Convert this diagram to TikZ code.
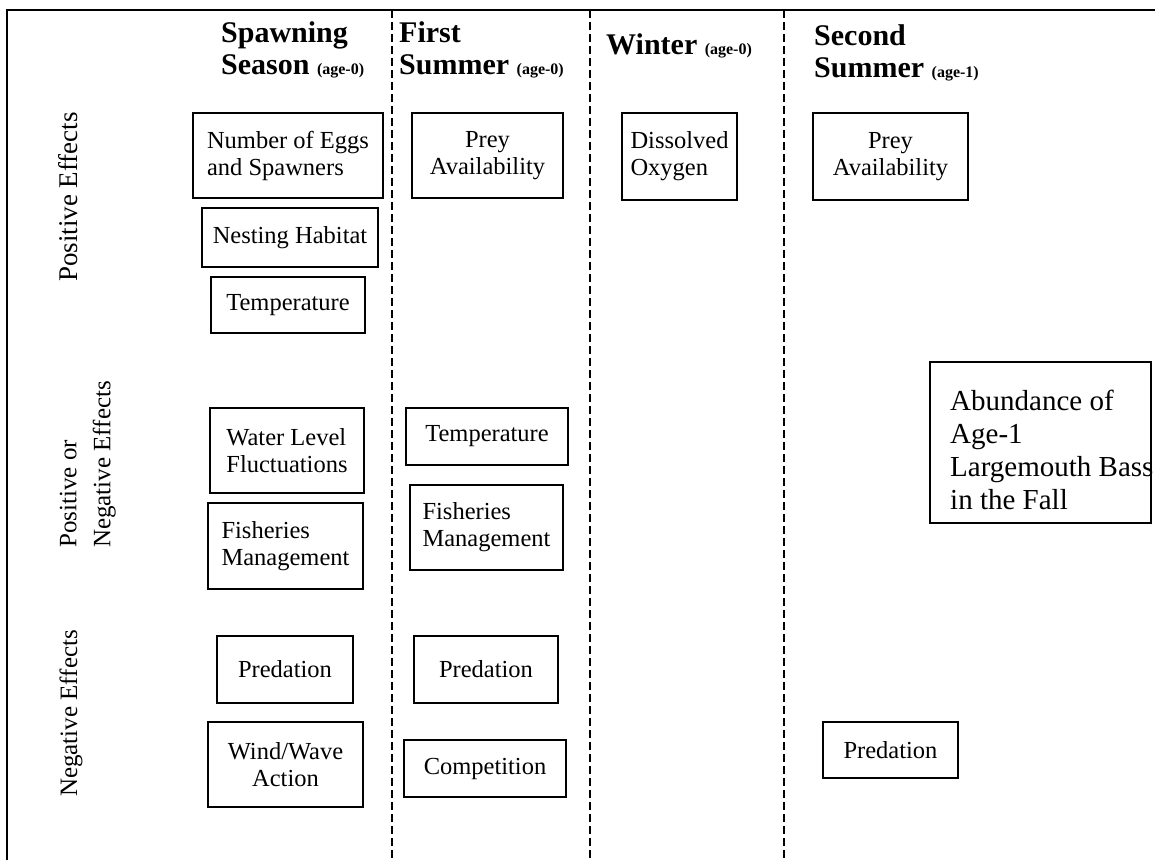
\documentclass[tikz,border=0pt]{standalone}
\usepackage{fontspec}
\setmainfont{Liberation Serif}

\newcommand{\agetag}[1]{{\fontsize{16}{16}\selectfont\bfseries (age-#1)}}

\tikzset{
  factor/.style={draw, line width=2pt, inner sep=0pt, align=center,
                 font=\fontsize{24.5}{27}\selectfont},
  season/.style={anchor=north west, inner sep=0pt, align=left,
                 font=\fontsize{30}{32}\selectfont\bfseries},
  effect/.style={rotate=90, inner sep=0pt, font=\fontsize{25}{34}\selectfont},
  divider/.style={line width=1.8pt, dash pattern=on 8pt off 4pt},
}

\begin{document}
\begin{tikzpicture}[x=1pt, y=-1pt]

\useasboundingbox (0,0) rectangle (1155,860);

% frame and season dividers
\draw[line width=2.6pt] (7,860) -- (7,10) -- (1155,10);
\foreach \x in {392,590,784}
  \draw[divider] (\x,10) -- (\x,860);

% season headings
\node[season] (spawning) at (221,21) {Spawning\\Season \agetag{0}};
\node[season] (first)    at (399,21) {First\\Summer \agetag{0}};
\node[season] (winter)   at (606,33) {Winter \agetag{0}};
\node[season] (second)   at (814,24) {Second\\Summer \agetag{1}};

% kinds of effect
\node[effect, anchor=base west, font=\fontsize{27}{34}\selectfont] (pos) at (77,282) {Positive Effects};
\node[effect, anchor=south west, align=left] (mixed) at (116,548) {Positive or\\Negative Effects};
\node[effect, anchor=base west] (neg) at (77,797) {Negative Effects};

% spawning season
\node[factor, align=left, minimum width=190pt, minimum height=85pt] (eggs) at (288,155.5) {Number of Eggs\\and Spawners};
\node[factor, minimum width=176pt, minimum height=59pt] (nesting) at (290,237.5) {Nesting Habitat};
\node[factor, minimum width=154pt, minimum height=56pt] (tempA) at (288,305) {Temperature};
\node[factor, align=left, minimum width=154pt, minimum height=85pt] (water) at (287,450.5) {Water Level\\Fluctuations};
\node[factor, align=left, minimum width=155pt, minimum height=86pt] (fishA) at (285.5,546) {Fisheries\\Management};
\node[factor, minimum width=136pt, minimum height=67pt] (predA) at (285,669.5) {Predation};
\node[factor, minimum width=155pt, minimum height=85pt] (wind) at (285.5,764.5) {Wind/Wave\\Action};

% first summer
\node[factor, minimum width=151pt, minimum height=85pt] (preyA) at (487.5,155.5) {Prey\\Availability};
\node[factor, minimum width=162pt, minimum height=57pt] (tempB) at (487,436.5) {Temperature};
\node[factor, align=left, minimum width=153pt, minimum height=85pt] (fishB) at (486.5,527.5) {Fisheries\\Management};
\node[factor, minimum width=144pt, minimum height=67pt] (predB) at (486,669.5) {Predation};
\node[factor, minimum width=162pt, minimum height=57pt] (comp) at (485,768.5) {Competition};

% winter
\node[factor, align=left, minimum width=115pt, minimum height=87pt] (oxygen) at (679.5,156.5) {Dissolved\\Oxygen};

% second summer
\node[factor, minimum width=155pt, minimum height=87pt] (preyB) at (890.5,156.5) {Prey\\Availability};
\node[factor, minimum width=135pt, minimum height=56pt] (predC) at (890.5,750) {Predation};

% outcome
\draw[line width=2pt] (930,362) rectangle (1151,523);
\node[anchor=north west, inner sep=0pt, align=left, font=\fontsize{29}{33}\selectfont] (abundance) at (950,390)
  {Abundance of\\Age-1\\Largemouth Bass\\in the Fall};

\end{tikzpicture}
\end{document}
